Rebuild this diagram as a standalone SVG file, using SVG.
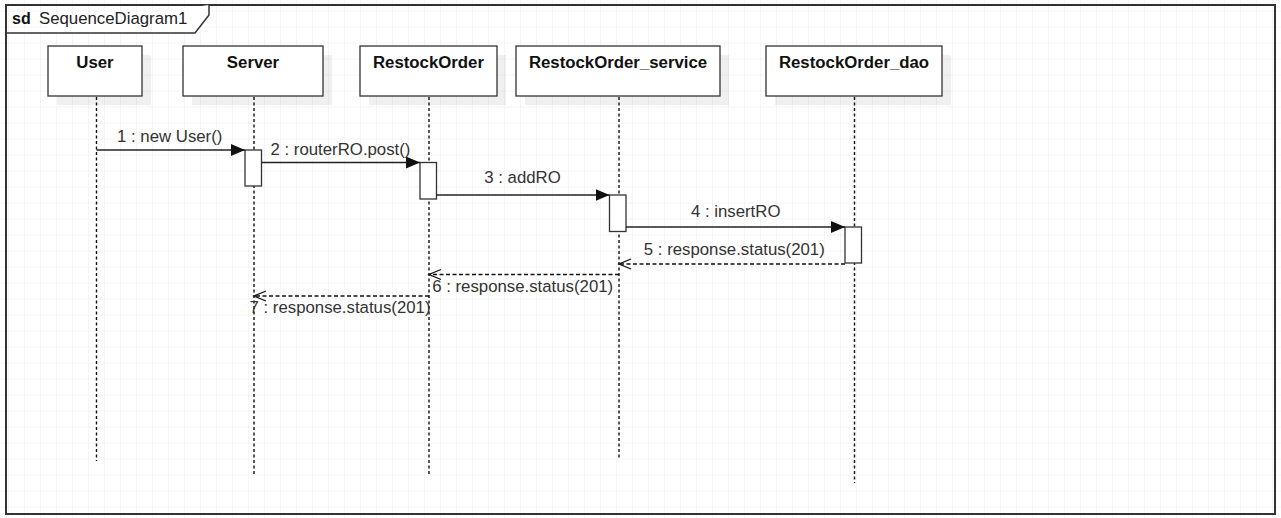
<svg xmlns="http://www.w3.org/2000/svg" width="1281" height="518" viewBox="0 0 1281 518">
<style>
.lbl{font-family:"Liberation Sans",Arial,sans-serif;font-size:16.8px;fill:#333;text-anchor:middle}
.hdr{font-family:"Liberation Sans",Arial,sans-serif;font-size:16.8px;font-weight:bold;fill:#111;text-anchor:middle}
.box{fill:#fff;stroke:#333;stroke-width:1.3}
.shadow{fill:#000;fill-opacity:0.06}
.life{stroke:#111;stroke-width:1.4;stroke-dasharray:3 2.5;fill:none}
.act{fill:#fff;stroke:#333;stroke-width:1.3}
.call{stroke:#222;stroke-width:1.3;fill:none;marker-end:url(#filled)}
.ret{stroke:#111;stroke-width:1.3;stroke-dasharray:4 2.5;fill:none;marker-end:url(#open)}
</style>
<defs>
<pattern id="grid" x="8" y="10.5" width="16" height="16" patternUnits="userSpaceOnUse">
<path d="M0,0 H16 M0,0 V16" stroke="#ebebeb" stroke-width="1" fill="none"/>
</pattern>
<marker id="filled" markerUnits="userSpaceOnUse" markerWidth="16" markerHeight="14" refX="14" refY="6" orient="auto">
<path d="M0,0 L14,6 L0,12 z" fill="#111"/>
</marker>
<marker id="open" markerUnits="userSpaceOnUse" markerWidth="16" markerHeight="14" refX="13" refY="6" orient="auto">
<polyline points="1,1 13,6 1,11" fill="none" stroke="#111" stroke-width="1.3"/>
</marker>
</defs>
<rect width="1281" height="518" fill="#fff"/>
<rect width="1281" height="518" fill="url(#grid)"/>

<g id="frame">
<rect x="6" y="5" width="1269" height="509" fill="none" stroke="#333" stroke-width="2"/>
<path d="M6,33 H195 L209,15 V5" fill="#fff" stroke="#333" stroke-width="1.5"/>
<text x="12" y="24" style="font-family:'Liberation Sans',Arial,sans-serif;font-size:16px;font-weight:bold;fill:#111">sd</text>
<text x="39" y="24" style="font-family:'Liberation Sans',Arial,sans-serif;font-size:16.8px;fill:#222">SequenceDiagram1</text>
</g>

<g id="lifelines">
<line class="life" x1="96.5" y1="97" x2="96.5" y2="461"/>
<line class="life" x1="254" y1="97" x2="254" y2="476"/>
<line class="life" x1="429" y1="97" x2="429" y2="476"/>
<line class="life" x1="619" y1="97" x2="619" y2="460"/>
<line class="life" x1="854.5" y1="97" x2="854.5" y2="483"/>
</g>

<g id="User">
<rect class="shadow" x="57" y="55" width="94" height="50"/>
<rect class="box" x="48" y="46" width="94" height="50"/>
<text class="hdr" x="95" y="68">User</text>
</g>
<g id="Server">
<rect class="shadow" x="192" y="55" width="140" height="50"/>
<rect class="box" x="183" y="46" width="140" height="50"/>
<text class="hdr" x="253" y="68">Server</text>
</g>
<g id="RestockOrder">
<rect class="shadow" x="369" y="55" width="137" height="50"/>
<rect class="box" x="360" y="46" width="137" height="50"/>
<text class="hdr" x="428.5" y="68">RestockOrder</text>
</g>
<g id="RestockOrder_service">
<rect class="shadow" x="525" y="55" width="204" height="50"/>
<rect class="box" x="516" y="46" width="204" height="50"/>
<text class="hdr" x="618" y="68">RestockOrder_service</text>
</g>
<g id="RestockOrder_dao">
<rect class="shadow" x="775" y="55" width="176" height="50"/>
<rect class="box" x="766" y="46" width="176" height="50"/>
<text class="hdr" x="854" y="68">RestockOrder_dao</text>
</g>

<g id="activations">
<rect class="act" x="245" y="150" width="16.5" height="36"/>
<rect class="act" x="420" y="162.5" width="16.5" height="36.5"/>
<rect class="act" x="609.5" y="195" width="16.5" height="36.5"/>
<rect class="act" x="845" y="227" width="16.5" height="36"/>
</g>

<g id="connectors">
<line class="call" x1="96.5" y1="150" x2="245" y2="150"/>
<line class="call" x1="261.5" y1="162.5" x2="420" y2="162.5"/>
<line class="call" x1="436.5" y1="195" x2="609.5" y2="195"/>
<line class="call" x1="626" y1="227" x2="845" y2="227"/>
<line class="ret" x1="845" y1="264" x2="619" y2="264"/>
<line class="ret" x1="619" y1="274.5" x2="429" y2="274.5"/>
<line class="ret" x1="429" y1="296" x2="254" y2="296"/>
<text class="lbl" x="169.7" y="142">1 : new User()</text>
<text class="lbl" x="340.5" y="155">2 : routerRO.post()</text>
<text class="lbl" x="522.5" y="183">3 : addRO</text>
<text class="lbl" x="735.7" y="217">4 : insertRO</text>
<text class="lbl" x="734.3" y="255">5 : response.status(201)</text>
<text class="lbl" x="522.7" y="292">6 : response.status(201)</text>
<text class="lbl" x="340" y="313">7 : response.status(201)</text>
</g>
</svg>
